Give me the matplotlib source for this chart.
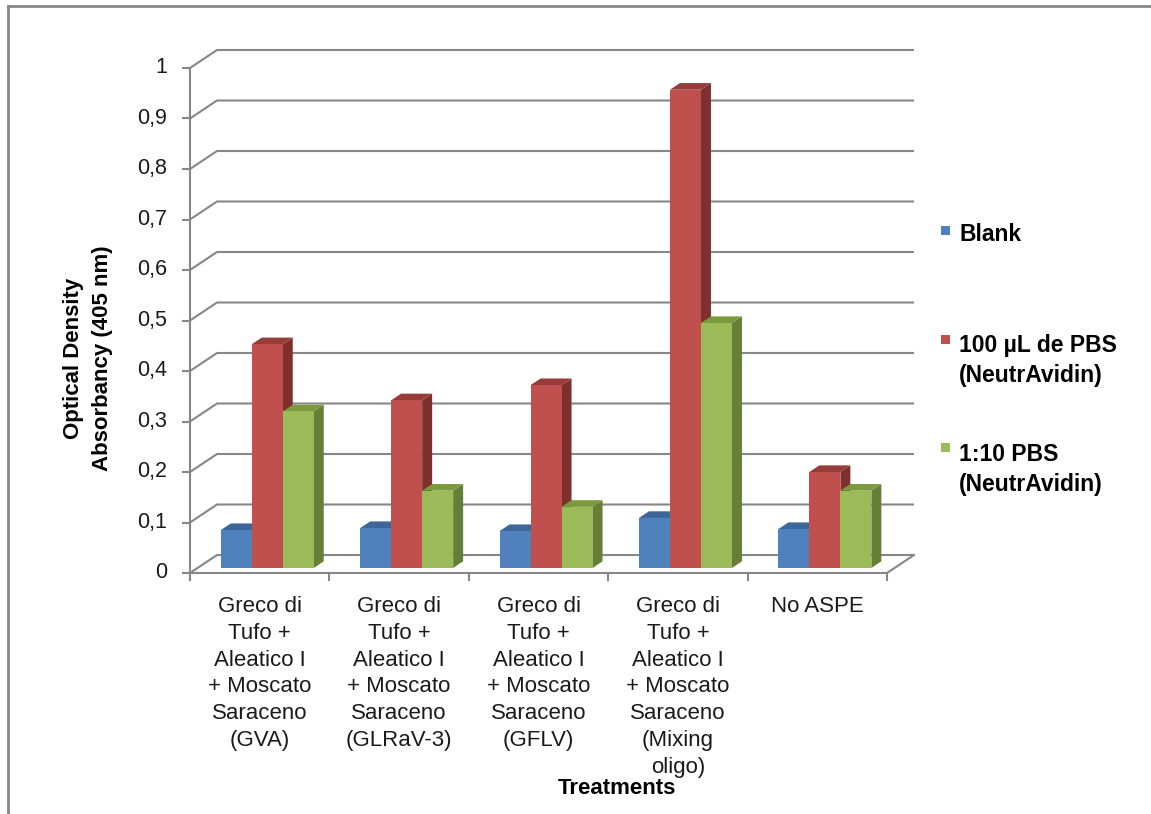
import matplotlib
matplotlib.use("Agg")
import matplotlib.pyplot as plt
from matplotlib.patches import Polygon, Rectangle
from matplotlib.lines import Line2D

plt.rcParams["font.family"] = ["Liberation Sans", "DejaVu Sans"]

CATEGORIES = [
    "Greco di\nTufo +\nAleatico I\n+ Moscato\nSaraceno\n(GVA)",
    "Greco di\nTufo +\nAleatico I\n+ Moscato\nSaraceno\n(GLRaV-3)",
    "Greco di\nTufo +\nAleatico I\n+ Moscato\nSaraceno\n(GFLV)",
    "Greco di\nTufo +\nAleatico I\n+ Moscato\nSaraceno\n(Mixing\noligo)",
    "No ASPE",
]
SERIES = ["Blank", "100 µL de PBS\n(NeutrAvidin)", "1:10 PBS\n(NeutrAvidin)"]
BLANK = [0.075, 0.079, 0.073, 0.099, 0.077]
PBS_100 = [0.443, 0.332, 0.362, 0.947, 0.190]
PBS_1_10 = [0.310, 0.153, 0.121, 0.485, 0.153]
VALUES = [BLANK, PBS_100, PBS_1_10]
Y_TICKS = [0, 0.1, 0.2, 0.3, 0.4, 0.5, 0.6, 0.7, 0.8, 0.9, 1.0]

# face colours: front, top, side
COLORS = [
    ("#4F81BD", "#3D6799", "#385D8A"),
    ("#C0504D", "#983C3A", "#7E302E"),
    ("#9BBB59", "#7A9A3E", "#657F37"),
]
GRID = "#878787"

W, H = 1151, 814
PX_CAT, PX_VAL = 139.4, 505.0      # pixels per category / per unit of value
X0_PX, Y0_PX = 190.0, 573.0        # front-left corner of the floor
DX, DY = 27.0 / PX_CAT, 18.0 / PX_VAL   # full depth of the plot box
F0, F1 = 0.28, 0.65                # depth of bar front / back faces
BAR_W = 31.0 / PX_CAT

fig = plt.figure(figsize=(W / 100, H / 100), dpi=100)
ax = fig.add_axes([0, 0, 1, 1])
ax.set_xlim(-0.5 - X0_PX / PX_CAT, -0.5 + (W - X0_PX) / PX_CAT)
ax.set_ylim(-(H - Y0_PX) / PX_VAL, Y0_PX / PX_VAL)
ax.axis("off")


def px(x, y):
    """pixel position (from top-left) -> data coords"""
    return (-0.5 + (x - X0_PX) / PX_CAT, (Y0_PX - y) / PX_VAL)


n = len(CATEGORIES)
left, right = -0.5, n - 0.5

# walls: side-wall diagonals + back-wall gridlines
for v in Y_TICKS:
    ax.plot([left, left + DX, right + DX], [v, v + DY, v + DY],
            color=GRID, lw=1.5, solid_capstyle="butt", zorder=1)
# floor
ax.plot([left, right, right + DX], [0, 0, DY], color=GRID, lw=1.5, zorder=1)
# value axis and ticks
ax.plot([left, left], [0, Y_TICKS[-1]], color=GRID, lw=1.5, zorder=1)
tick_len = 7.0 / PX_CAT
for v in Y_TICKS:
    ax.plot([left - tick_len, left], [v, v], color=GRID, lw=1.5, zorder=1)
    lab = ("%g" % v).replace(".", ",")
    ax.text(left - 23.0 / PX_CAT, v, lab, ha="right", va="center",
            fontsize=15.5, color="#1a1a1a")
# category ticks
for k in range(n + 1):
    ax.plot([left + k, left + k], [0, -7.0 / PX_VAL], color=GRID, lw=1.5, zorder=1)

# bars
for i in range(n):
    for s, vals in enumerate(VALUES):
        front, top, side = COLORS[s]
        x0 = i - 1.5 * BAR_W + s * BAR_W + F0 * DX
        x1 = x0 + BAR_W
        y0 = F0 * DY
        y1 = vals[i] + F0 * DY
        ddx, ddy = (F1 - F0) * DX, (F1 - F0) * DY
        ax.add_patch(Polygon([(x1, y0), (x1, y1), (x1 + ddx, y1 + ddy), (x1 + ddx, y0 + ddy)],
                             closed=True, fc=side, ec="none", zorder=3))
        ax.add_patch(Polygon([(x0, y1), (x1, y1), (x1 + ddx, y1 + ddy), (x0 + ddx, y1 + ddy)],
                             closed=True, fc=top, ec="none", zorder=3))
        ax.add_patch(Rectangle((x0, y0), BAR_W, vals[i], fc=front, ec="none", zorder=3))

# category labels
for i, lab in enumerate(CATEGORIES):
    ax.text(i, px(0, 596)[1], lab, ha="center", va="top", fontsize=16,
            linespacing=1.36, color="#1a1a1a")

ax.text(*px(617, 788), "Treatments", ha="center", va="center",
        fontsize=16, fontweight="bold")
ax.text(*px(88, 358), "Optical Density\nAbsorbancy (405 nm)", ha="center",
        va="center", rotation=90, fontsize=16, fontweight="bold", linespacing=1.55)

# legend
square_y = [231, 340, 448]
text_top = [223, 334, 443]
for s, name in enumerate(SERIES):
    sq = 9.0
    lx, ly = px(941, square_y[s] + sq / 2)
    ax.add_patch(Rectangle((lx, ly), sq / PX_CAT, sq / PX_VAL,
                           fc=COLORS[s][0], ec="none"))
    ax.text(*px(959, text_top[s]), name, ha="left", va="top",
            fontsize=16.5, fontweight="bold", linespacing=1.4)

# chart area frame (left and top edges)
fig.add_artist(Line2D([8 / W, 8 / W], [0, 1 - 6 / H], color=GRID, lw=2))
fig.add_artist(Line2D([8 / W, 1], [1 - 6 / H, 1 - 6 / H], color=GRID, lw=2))

fig.savefig("out.png", dpi=100)
